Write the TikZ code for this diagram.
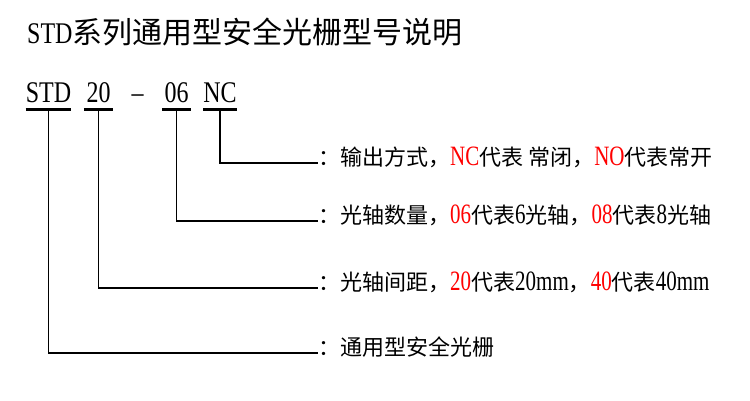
\documentclass[tikz,border=0pt]{standalone}
\usepackage{fontspec}
\setmainfont{Noto Sans CJK SC}
\newfontfamily\codelat[FakeStretch=0.8]{Liberation Serif}
\newfontfamily\lablat[FakeStretch=0.75]{Liberation Serif}
\newcommand\latxt[1]{{\fontsize{28}{26}\selectfont\lablat #1}}
\newcommand\redtxt[1]{\textcolor{red}{\latxt{#1}}}
\begin{document}
\begin{tikzpicture}[x=1pt,y=-1pt,
  code/.style={anchor=base,inner sep=0pt,font=\fontsize{30}{30}\selectfont\codelat},
  lbl/.style={anchor=base west,inner sep=0pt,font=\fontsize{22}{26}\selectfont},
  uline/.style={line width=3pt},
  link/.style={line width=1.8pt}]

 % dimensões principais
    \def\yb{102}    % linha de base do código
    \def\xe{318}    % fim das ligações

    \useasboundingbox (0,0) rectangle (750,400);

    % título
    \node[lbl,font=\fontsize{30}{34}\selectfont] (title) at (27,43)
      {{\fontsize{30}{30}\selectfont\codelat STD}系列通用型安全光栅型号说明};

    % código do modelo
    \node[code,minimum width=45pt] (std) at (48.5,\yb) {STD};
    \node[code,minimum width=29pt] (d20) at (98.5,\yb) {20};
    \node[code] (sep) at (137.5,\yb) {–};
    \node[code,minimum width=28pt] (d06) at (176.5,\yb) {06};
    \node[code,minimum width=29pt] (nc) at (220,\yb) {NC};

    % sublinhados
    \foreach \n in {std,d20,d06,nc}
      \draw[uline] ([yshift=-7pt]\n.base west) -- ([yshift=-7pt]\n.base east);

    % legendas
    \node[lbl] (lblnc) at (\xe,165) {：输出方式，\redtxt{NC}代表 常闭，\redtxt{NO}代表常开};
    \node[lbl] (lbl06) at (\xe,223) {：光轴数量，\redtxt{06}代表\latxt{6}光轴，\redtxt{08}代表\latxt{8}光轴};
    \node[lbl] (lbl20) at (\xe,290) {：光轴间距，\redtxt{20}代表\latxt{20mm}，\redtxt{40}代表\latxt{40mm}};
    \node[lbl] (lblstd) at (\xe,355) {：通用型安全光栅};

    % ligações
    \draw[link] ([yshift=-7pt]nc.base) |- ([yshift=2pt]lblnc.base west);
    \draw[link] ([yshift=-7pt]d06.base) |- ([yshift=2pt]lbl06.base west);
    \draw[link] ([yshift=-7pt]d20.base) |- ([yshift=2pt]lbl20.base west);
    \draw[link] ([yshift=-7pt]std.base) |- ([yshift=2pt]lblstd.base west);

\end{tikzpicture}
\end{document}
